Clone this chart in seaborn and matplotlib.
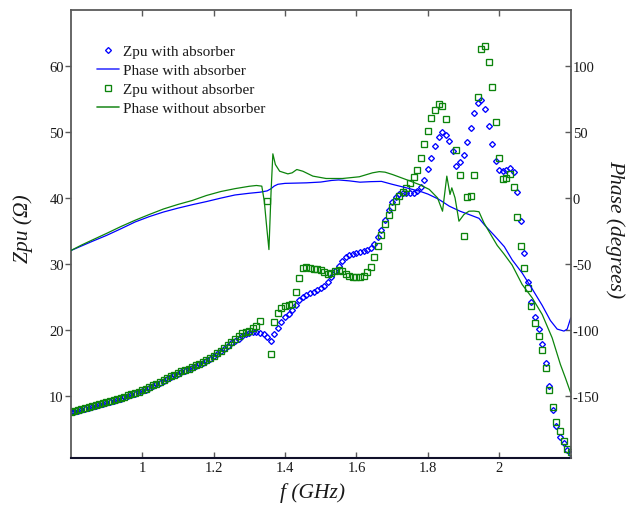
import numpy as np
import matplotlib
matplotlib.use("Agg")
import matplotlib.pyplot as plt
import seaborn as sns
from matplotlib.lines import Line2D

nan = np.nan

# frequency grid of the Zpu measurements (GHz)
freq = np.linspace(0.80, 2.20, 141)

# Zpu with absorber (ohm)
zpu_abs = [
    7.5, 7.6, 7.72, 7.85, 8.0, 8.15, 8.3, 8.45, 8.6, 8.78,
    8.95, 9.1, 9.25, 9.4, 9.57, 9.75, 9.93, 10.1, 10.3, 10.5,
    10.7, 10.93, 11.18, 11.43, 11.7, 11.95, 12.25, 12.55, 12.8, 13.1,
    13.35, 13.55, 13.8, 14.0, 14.25, 14.5, 14.75, 15.0, 15.3, 15.6,
    15.95, 16.35, 16.75, 17.15, 17.55, 17.95, 18.3,
    18.6, 19.05, 19.3, 19.5, 19.6, 19.65, 19.55, 19.3, 18.9, 18.3,
    19.4, 20.3, 21.2, 21.9, 22.45, 23.0, 23.8, 24.45, 24.9, 25.25,
    25.5, 25.75, 26.05, 26.3, 26.7, 27.2, 28.0, 28.85, 29.7, 30.4,
    31.1, 31.35, 31.5, 31.7, 31.8, 31.9, 32.05, 32.45, 33.0, 34.0,
    35.1, 36.7, 38.2, 39.3, 40.1, 40.55, 40.7, 40.7, 40.7, 40.8,
    41.1, 41.6, 42.75, 44.4, 46.05, 47.8, 49.2, 49.95, 49.6, 48.7,
    47.1, 44.9, 45.5, 46.5, 48.4, 50.6, 52.9, 54.4, 54.8, 53.5,
    50.95, 48.2, 45.6, 44.3, 44.1, 44.2, 44.5, 43.9, 40.95, 36.5,
    31.6, 27.3, 24.2, 22.0, 20.1, 17.9, 14.95, 11.4, 7.9, 5.35,
    3.8, 2.8, 1.8, 1.1,
]

# Zpu without absorber (ohm)
zpu_noabs = [
    7.6, 7.72, 7.85, 7.98, 8.1, 8.25, 8.4, 8.55, 8.7, 8.88,
    9.05, 9.2, 9.35, 9.5, 9.65, 9.85, 10.05, 10.2, 10.4, 10.6,
    10.8, 11.05, 11.3, 11.55, 11.8, 12.05, 12.35, 12.65, 12.95, 13.2,
    13.45, 13.7, 13.9, 14.1, 14.35, 14.6, 14.85, 15.1, 15.4, 15.7,
    16.05, 16.45, 16.85, 17.25, 17.7, 18.1, 18.55, 19.0,
    19.5, 19.7, 19.85, 20.2, 20.6, 21.4, nan, 39.6, 16.3, 21.2,
    22.6, 23.25, 23.65, 23.75, 23.9, 25.7, 27.8, 29.3, 29.55, 29.4,
    29.2, 29.2, 29.0, 28.7, 28.4, 28.6, 28.9, 29.1, 28.95, 28.5,
    28.15, 27.95, 27.95, 27.95, 28.1, 28.7, 29.5, 31.1, 32.7, 34.3,
    36.0, 37.4, 38.6, 39.6, 40.3, 40.95, 41.45, 42.25, 43.1, 44.3,
    46.05, 48.1, 50.1, 52.1, 53.4, 54.2, 53.9, 51.9, nan, nan,
    47.3, 43.5, 34.2, 40.1, 40.3, 43.5, 55.25, 62.6, 63.1, 60.6,
    56.8, 51.5, 46.0, 42.9, 43.0, 43.6, 41.6, 37.05, 32.75, 29.4,
    26.4, 23.65, 21.1, 19.1, 17.0, 14.15, 10.9, 8.25, 6.05, 4.6,
    3.1, 1.9, 1.4,
]

# Phase with absorber (degrees)
phase_abs_f = [0.80, 0.83, 0.86, 0.90, 0.94, 0.98, 1.02, 1.06, 1.10, 1.14,
               1.18, 1.22, 1.26, 1.30, 1.33, 1.35, 1.36, 1.37, 1.38, 1.40,
               1.43, 1.46, 1.50, 1.53, 1.55, 1.58, 1.61, 1.64, 1.67, 1.70,
               1.74, 1.78, 1.80, 1.83, 1.86, 1.89, 1.915, 1.943, 1.96, 1.986,
               2.014, 2.036, 2.064, 2.092, 2.12, 2.143, 2.162, 2.181, 2.19, 2.20]
phase_abs = [-40, -36.5, -33, -28.5, -23.5, -18.3, -14.2, -10.7, -7.8, -5.2,
             -2.8, -0.2, 2.2, 3.5, 4.3, 5.3, 6.8, 9.0, 10.3, 11.0,
             11.2, 11.4, 12.0, 13.2, 13.6, 12.9, 11.9, 12.3, 12.5, 10.3,
             7.6, 4.8, 2.9, -1.0, -6.3, -10.1, -12.6, -15.5, -21, -28.5,
             -37, -47, -57, -69, -81.5, -93, -99.5, -101, -99.5, -91]

# Phase without absorber (degrees)
phase_noabs_f = [0.80, 0.83, 0.86, 0.90, 0.94, 0.98, 1.02, 1.06, 1.10, 1.14,
                 1.18, 1.22, 1.26, 1.30, 1.32, 1.335, 1.342, 1.348, 1.355, 1.361,
                 1.366, 1.373, 1.385, 1.408, 1.42, 1.433, 1.45, 1.478, 1.515, 1.561,
                 1.608, 1.645, 1.664, 1.68, 1.701, 1.739, 1.776, 1.804, 1.827, 1.841,
                 1.853, 1.862, 1.867, 1.876, 1.887, 1.901, 1.915, 1.929, 1.943, 1.957,
                 1.976, 1.994, 2.013, 2.036, 2.064, 2.092, 2.12, 2.148, 2.171, 2.185,
                 2.20]
phase_noabs = [-40, -35.8, -32, -27, -21.8, -17, -12.6, -8.4, -5.0, -2.0,
               1.8, 4.8, 7.0, 8.8, 9.4, 8.9, -2.5, -20, -39.2, 5,
               33.4, 25.3, 20.2, 18.2, 19.0, 21.5, 20.2, 16.5, 14.7, 14.7,
               16.0, 19.0, 19.9, 19.5, 17.7, 13.9, 10.1, 6.4, 0, -10.1,
               16.5, 2.6, 7.6, 0, -17.7, -12.6, -10.1, -10.0, -10.5, -19.0,
               -27.8, -36, -42.5, -51, -65.7, -75.8, -88.4, -106.2, -126.3, -136.5,
               -148]

x_ticks = [1.0, 1.2, 1.4, 1.6, 1.8, 2.0]
x_tick_labels = ["1", "1.2", "1.4", "1.6", "1.8", "2"]
z_ticks = [10, 20, 30, 40, 50, 60]
phase_ticks = [-150, -100, -50, 0, 50, 100]
series_labels = ["Zpu with absorber", "Phase with absorber",
                 "Zpu without absorber", "Phase without absorber"]

sns.set_theme(style="white")
plt.rcParams["font.family"] = ["Liberation Serif", "DejaVu Serif"]
plt.rcParams["axes.unicode_minus"] = False

BLUE = "#0000ff"
GREEN = "#0c840c"
GRAY = "#5a5a5a"
TXT = "#1a1a1a"

fig = plt.figure(figsize=(6.29, 5.06), dpi=100)
ax = fig.add_axes([0.1124, 0.0935, 0.795, 0.8854])
ax2 = ax.twinx()

D_MS, S_MS, MEW = 3.0, 3.7, 0.95

sns.lineplot(x=freq, y=zpu_abs, ax=ax, linestyle="", marker="D",
             markersize=D_MS, markerfacecolor="none", markeredgecolor=BLUE,
             markeredgewidth=MEW, color=BLUE, estimator=None, sort=False)
sns.lineplot(x=freq, y=zpu_noabs, ax=ax, linestyle="", marker="s",
             markersize=S_MS, markerfacecolor="none", markeredgecolor=GREEN,
             markeredgewidth=MEW, color=GREEN, estimator=None, sort=False)
sns.lineplot(x=phase_abs_f, y=phase_abs, ax=ax2, color=BLUE, linewidth=0.9,
             estimator=None, sort=False)
sns.lineplot(x=phase_noabs_f, y=phase_noabs, ax=ax2, color=GREEN, linewidth=0.9,
             estimator=None, sort=False)

ax.set_xlim(0.80, 2.20)
ax.set_ylim(0.6, 68.54)
ax2.set_ylim(5 * (0.6 - 40), 5 * (68.54 - 40))

ax.set_xticks(x_ticks)
ax.set_xticklabels(x_tick_labels)
ax.set_yticks(z_ticks)
ax2.set_yticks(phase_ticks)
ax.set_xlabel("")
ax.set_ylabel("")
ax2.set_ylabel("")

for a in (ax, ax2):
    for s in a.spines.values():
        s.set_visible(False)
ax.spines["left"].set_visible(True)
ax.spines["left"].set_color(GRAY)
ax.spines["left"].set_linewidth(1.3)
ax.spines["top"].set_visible(True)
ax.spines["top"].set_color(GRAY)
ax.spines["top"].set_linewidth(1.3)
ax.spines["bottom"].set_visible(True)
ax.spines["bottom"].set_color("#10102a")
ax.spines["bottom"].set_linewidth(1.5)
ax2.spines["right"].set_visible(True)
ax2.spines["right"].set_color(GRAY)
ax2.spines["right"].set_linewidth(1.3)

ax.tick_params(axis="x", which="major", direction="in", top=True, bottom=True,
               length=4, width=1, color=GRAY, labelsize=10.5, labelcolor=TXT, pad=2.5)
ax.tick_params(axis="y", which="major", direction="out", left=True, right=False,
               length=4, width=1, color=GRAY, labelsize=10.5, labelcolor=TXT, pad=1)
ax2.tick_params(axis="y", which="major", direction="in", right=True, left=False,
                length=4, width=1, color=GRAY, labelsize=10.5, labelcolor=TXT, pad=1.5)
ax.grid(False)
ax2.grid(False)

fig.text(23 / 629, 1 - 229 / 506, "Zpu (Ω)", rotation=90, ha="center", va="center",
         fontsize=15.5, fontstyle="italic", color=TXT)
fig.text(615 / 629, 1 - 229 / 506, "Phase (degrees)", rotation=270, ha="center",
         va="center", fontsize=15.5, fontstyle="italic", color=TXT)
fig.text(313 / 629, 1 - 493 / 506, "f (GHz)", ha="center", va="center",
         fontsize=15.5, fontstyle="italic", color=TXT)

handles = [
    Line2D([], [], linestyle="", marker="D", markersize=D_MS, markerfacecolor="none",
           markeredgecolor=BLUE, markeredgewidth=MEW),
    Line2D([], [], color="#3a3aff", linewidth=1.2),
    Line2D([], [], linestyle="", marker="s", markersize=S_MS, markerfacecolor="none",
           markeredgecolor=GREEN, markeredgewidth=MEW),
    Line2D([], [], color="#2a902a", linewidth=1.2),
]
leg = ax2.legend(handles, series_labels, loc="upper left",
                 bbox_to_anchor=(97 / 629, 1 - 45.5 / 506), bbox_transform=fig.transFigure,
                 frameon=False, borderaxespad=0, borderpad=0, fontsize=11,
                 handlelength=1.45, handletextpad=0.25, labelspacing=0.34)
for t in leg.get_texts():
    t.set_color(TXT)

fig.savefig("out.png", dpi=100)
